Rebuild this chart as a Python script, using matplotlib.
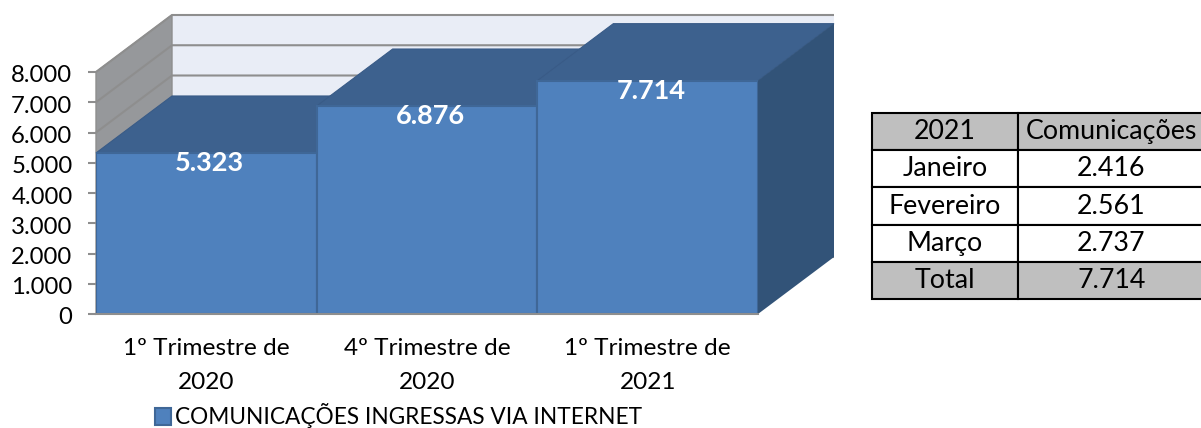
import matplotlib
matplotlib.use("Agg")
import matplotlib.pyplot as plt
from matplotlib.patches import Polygon
from matplotlib.transforms import offset_copy, Affine2D

plt.rcParams['font.family'] = ['Lato', 'DejaVu Sans']

categories = ["1º Trimestre de\n2020", "4º Trimestre de\n2020", "1º Trimestre de\n2021"]
values = [5323, 6876, 7714]
value_labels = ["5.323", "6.876", "7.714"]
yticks = [0, 1000, 2000, 3000, 4000, 5000, 6000, 7000, 8000]
ytick_labels = ["0", "1.000", "2.000", "3.000", "4.000", "5.000", "6.000", "7.000", "8.000"]
series_name = "COMUNICAÇÕES INGRESSAS VIA INTERNET"
table_rows = [["2021", "Comunicações"],
              ["Janeiro", "2.416"],
              ["Fevereiro", "2.561"],
              ["Março", "2.737"],
              ["Total", "7.714"]]

W, H = 1201, 428
FRONT, TOP, SIDE, EDGE = "#4F81BD", "#3D618E", "#325378", "#3F6797"
WALL, LEFTWALL, GRID = "#E9EDF6", "#96989B", "#8E8E8E"

fig = plt.figure(figsize=(W / 100, H / 100), dpi=100)
ax = fig.add_axes([96 / W, 1 - 314 / H, (758 - 96) / W, (314 - 72) / H])
ax.set_xlim(0, 3)
ax.set_ylim(0, 8000)

# depth of the pseudo-3D box, in data units
DX = 76 / ((758 - 96) / 3)
DY = 57 / ((314 - 72) / 8000)

def poly(pts, fc, ec="none", lw=0, z=1):
    ax.add_patch(Polygon(pts, closed=True, fc=fc, ec=ec, lw=lw, zorder=z, clip_on=False))

# walls
poly([(DX, DY), (3 + DX, DY), (3 + DX, 8000 + DY), (DX, 8000 + DY)], WALL, z=1)
poly([(0, 0), (DX, DY), (DX, 8000 + DY), (0, 8000)], LEFTWALL, GRID, 1, z=1.1)
for t in yticks:
    ax.plot([0, DX, 3 + DX], [t, t + DY, t + DY], color=GRID, lw=1.5, zorder=1.2,
            clip_on=False, solid_capstyle="butt")

# bars: top and side faces from values, front faces through ax.bar
for i, v in enumerate(values):
    z = 2 + i
    poly([(i, v), (i + 1, v), (i + 1 + DX, v + DY), (i + DX, v + DY)], TOP, "#395B87", 0.8, z=z)
    poly([(i + 1, 0), (i + 1 + DX, DY), (i + 1 + DX, v + DY), (i + 1, v)], SIDE, z=z)
    ax.bar(i + 0.5, v, width=1, color=FRONT, edgecolor=EDGE, linewidth=1.5, zorder=z + 0.5,
           label=series_name if i == 0 else None)

lab_tr = offset_copy(ax.transData, fig=fig, x=3.5, y=-10, units="dots")
for i, (v, s) in enumerate(zip(values, value_labels)):
    ax.text(i + 0.5, v, s, transform=lab_tr, ha="center", va="center", color="white",
            fontsize=19.5, fontweight="bold", zorder=10)

for sp in ["top", "left", "right"]:
    ax.spines[sp].set_visible(False)
ax.spines["bottom"].set_color(GRID)
ax.spines["bottom"].set_linewidth(1.5)
ax.spines["bottom"].set_zorder(9)

ax.set_yticks(yticks, ytick_labels, fontsize=17.2)
ax.tick_params(axis="y", length=6, width=1.5, color=GRID, pad=9.5)
for t in ax.get_yticklabels():
    t.set_transform(t.get_transform() + Affine2D().translate(-2, -2))
ax.set_xticks([0.5, 1.5, 2.5], categories, fontsize=17.6)
ax.tick_params(axis="x", length=0, pad=17.5)
for t in ax.get_xticklabels():
    t.set_linespacing(1.75)

leg = ax.legend(loc="lower left", bbox_to_anchor=(150 / W, 1 - 433 / H), bbox_transform=fig.transFigure,
                frameon=False, fontsize=16.3, handlelength=0.72, handleheight=0.72,
                handletextpad=0.2, borderpad=0.2, borderaxespad=0)

# table on the right
tax = fig.add_axes([872 / W, 1 - 299 / H, (1205 - 872) / W, (299 - 113) / H])
tax.axis("off")
tb = tax.table(cellText=table_rows, cellLoc="center", bbox=[0, 0, 1, 1],
               colWidths=[146 / 333, 187 / 333])
tb.auto_set_font_size(False)
tb.set_fontsize(19.3)
for (r, c), cell in tb.get_celld().items():
    cell.set_linewidth(1.5)
    cell.set_edgecolor("black")
    cell.set_facecolor("#BFBFBF" if r in (0, 4) else "white")
    cell.PAD = 0.01

fig.savefig("out.png", dpi=100)
